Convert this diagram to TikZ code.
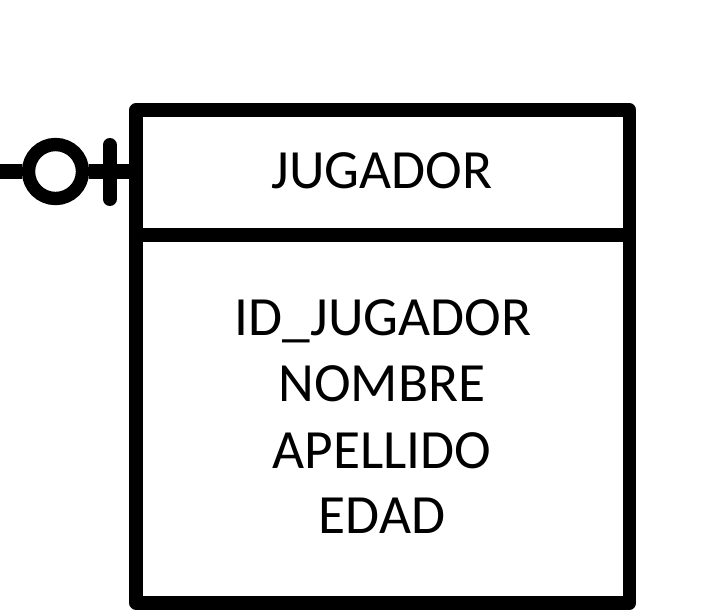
\documentclass[tikz,border=0pt]{standalone}
\usepackage{fontspec}
\setmainfont{Carlito}
\begin{document}
\begin{tikzpicture}[x=0.75pt,y=-0.75pt,
  er/.style={line width=10pt,line join=round,draw=black},
  lbl/.style={anchor=base,inner sep=0pt,font=\fontsize{41.5}{50}\selectfont}]
\useasboundingbox (0,0) rectangle (712,611);
\fill[white] (0,0) rectangle (712,611);
% entity box
\draw[er] (136,110) rectangle (629.5,603);
\draw[er] (136,235) -- (629.5,235);
\coordinate (boxw) at (136,171.5);
\coordinate (free) at (0,171.5);
\node[lbl] (title) at (382,188.5) {JUGADOR};
\node[lbl] (a1) at (383,335) {ID\_JUGADOR};
\node[lbl] (a2) at (382,401.5) {NOMBRE};
\node[lbl] (a3) at (382,468) {APELLIDO};
\node[lbl] (a4) at (382,533.5) {EDAD};
% connector: zero-or-one
\node[circle,draw,line width=10pt,minimum size=40.5pt,inner sep=0pt,fill=white] (zero) at (55.5,171.5) {};
\draw[line width=11pt] (free) -- (zero.west);
\draw[line width=11pt] (zero.east) -- (boxw);
\draw[line width=10.5pt,line cap=round] (109.7,145) -- (109.7,199);
\end{tikzpicture}
\end{document}
